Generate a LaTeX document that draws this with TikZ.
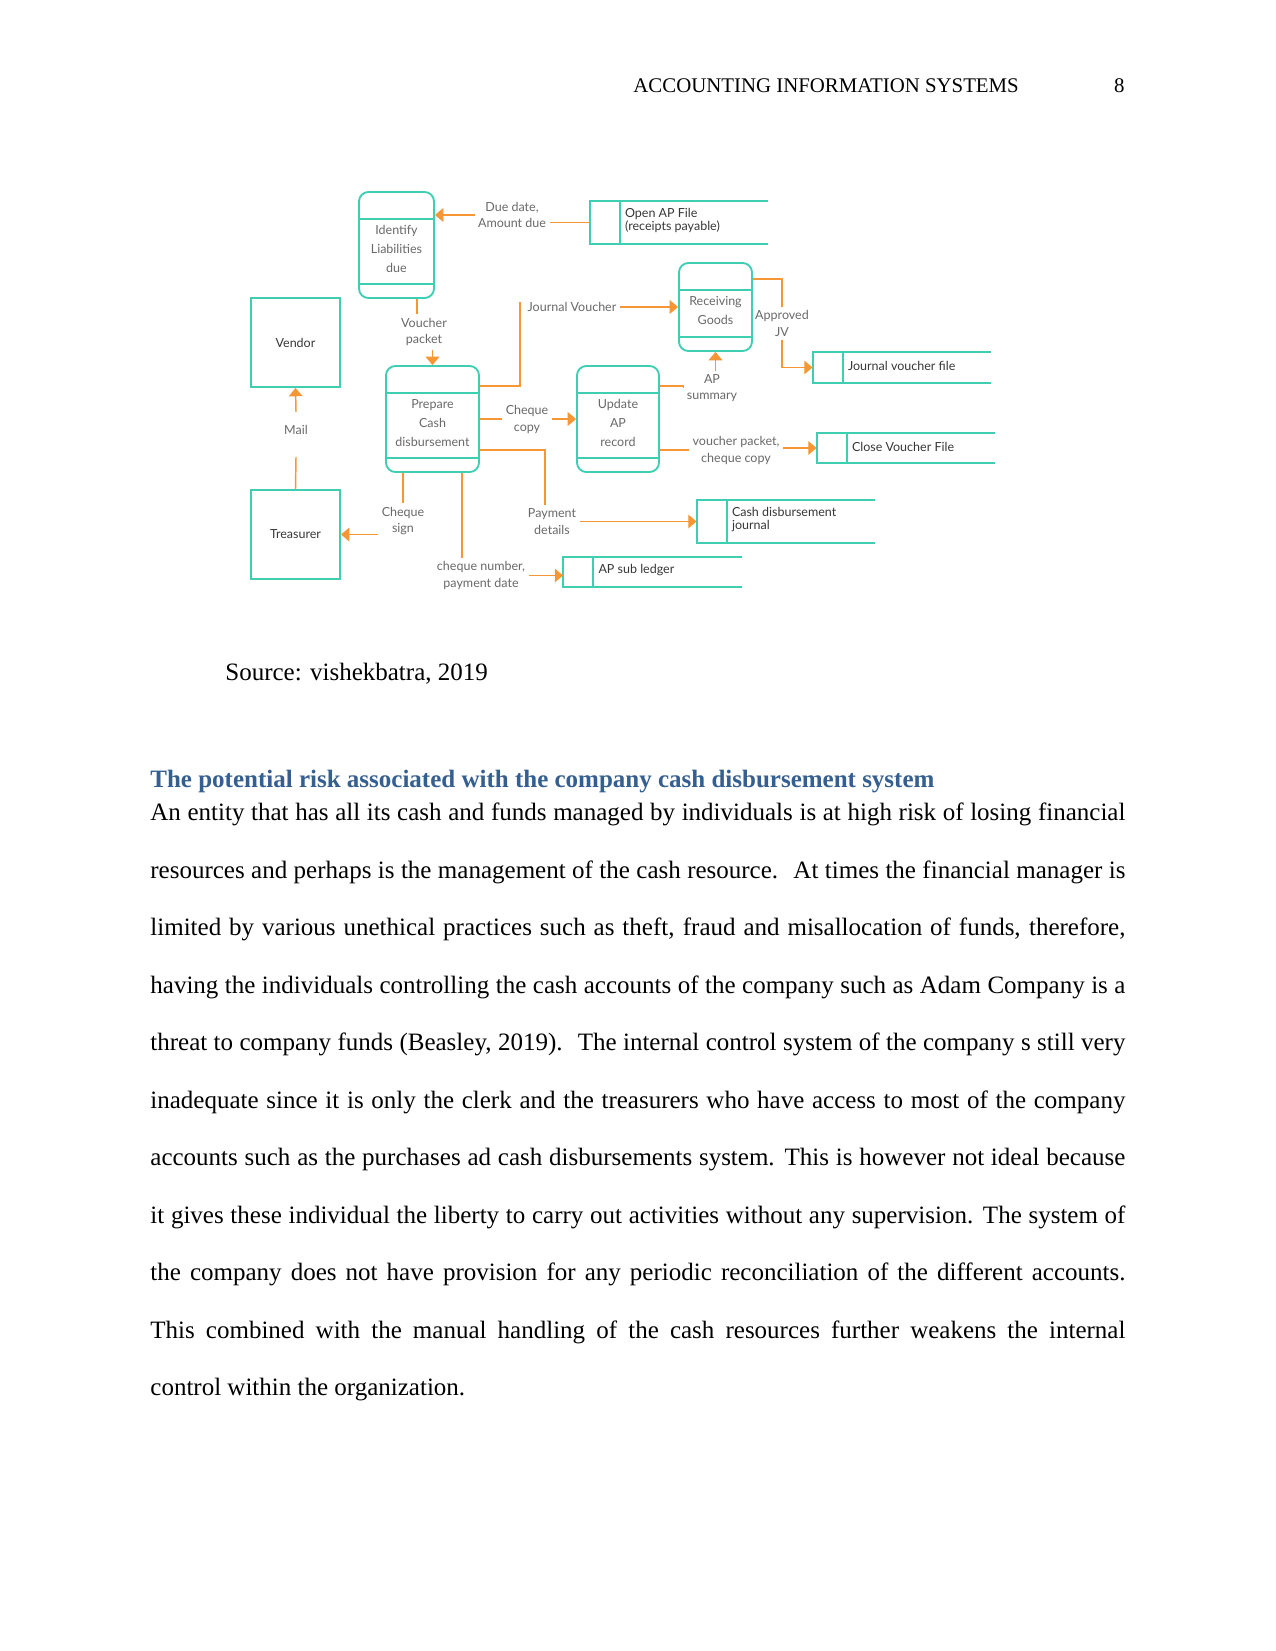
\documentclass[tikz,border=0pt]{standalone}
\usepackage{fontspec}
\setmainfont{Liberation Serif}
\newfontfamily\dfdfont{Lato}
\usetikzlibrary{arrows.meta,calc,positioning}

\definecolor{dfdteal}{RGB}{62,207,178}
\definecolor{dfdorange}{RGB}{246,150,52}
\definecolor{dfdgray}{RGB}{105,105,105}
\definecolor{dfddark}{RGB}{55,55,55}
\definecolor{headblue}{RGB}{54,95,145}

% one pixel of the page
\newdimen\pxu
\pxu=0.48pt

\begin{document}
\begin{tikzpicture}[
  x=0.48pt, y=-0.48pt,
  entity/.style={draw=dfdteal, line width=0.9pt, minimum width=89\pxu, minimum height=89\pxu,
    font=\dfdfont\fontsize{6}{8}\selectfont, text=dfddark},
  proc/.style={draw=dfdteal, line width=0.9pt, rounded corners=4.5pt, minimum height=106\pxu, inner sep=0pt,
    path picture={\draw[dfdteal, line width=0.9pt]
      ([yshift=-27\pxu]path picture bounding box.north west) -- ([yshift=-27\pxu]path picture bounding box.north east)
      ([yshift=14\pxu]path picture bounding box.south west) -- ([yshift=14\pxu]path picture bounding box.south east);}},
  ptext/.style={align=center, inner sep=0pt, font=\dfdfont\fontsize{6}{9}\selectfont, text=dfdgray},
  store/.style={minimum width=178\pxu, minimum height=30\pxu, inner sep=0pt},
  stext/.style={anchor=west, align=left, inner sep=0pt, font=\dfdfont\fontsize{6}{6.6}\selectfont, text=dfddark},
  lbl/.style={align=center, inner sep=1.5pt, font=\dfdfont\fontsize{6}{8}\selectfont, text=dfdgray},
  flow/.style={draw=dfdorange, line width=0.7pt},
  arr/.style={flow, -{Triangle[length=4pt, width=6.5pt]}},
  body/.style={anchor=base west, inner sep=0pt, font=\fontsize{12}{14}\selectfont}
]
\useasboundingbox (0,0) rectangle (1275,1651);
\fill[white] (0,0) rectangle (1275,1651);

% running head
\node[body, font=\fontsize{10}{12}\selectfont] (head) at (633,93) {ACCOUNTING INFORMATION SYSTEMS};
\node[body, font=\fontsize{10}{12}\selectfont, anchor=base east] (pageno) at (1125,93) {8};

% external entities
\node[entity] (vend) at (295.5,342.5) {Vendor};
\node[entity] (treas) at (295.5,534.5) {Treasurer};

% processes
\node[proc, minimum width=75\pxu] (ident) at (396.5,245) {};
\node[proc, minimum width=93\pxu] (prep) at (432.5,419) {};
\node[proc, minimum width=82\pxu] (upd) at (618,419) {};
\node[proc, minimum width=73\pxu, minimum height=88\pxu] (rcv) at (715.5,307) {};
\node[ptext] (ident-t) at ($(ident.center)+(0,4)$) {Identify\\Liabilities\\due};
\node[ptext] (prep-t) at ($(prep.center)+(0,4)$) {Prepare\\Cash\\disbursement};
\node[ptext] (upd-t) at ($(upd.center)+(0,4)$) {Update\\AP\\record};
\node[ptext] (rcv-t) at ($(rcv.center)+(0,3.5)$) {Receiving\\Goods};

% data stores
\node[store, minimum height=43\pxu] (apfile) at (679,222.5) {};
\node[store] (jvfile) at (902,367.5) {};
\node[store] (cvfile) at (906,448) {};
\node[store, minimum height=43\pxu] (cdj) at (786,521.5) {};
\node[store] (apsub) at (652.5,572) {};
\foreach \s in {apfile,jvfile,cvfile,cdj,apsub}
  \draw[dfdteal, line width=0.9pt] (\s.north east) -- (\s.north west) -- (\s.south west) -- (\s.south east)
    ($(\s.north west)+(30,0)$) -- ($(\s.south west)+(30,0)$);
\node[stext] (apfile-t) at ($(apfile.west)+(35,-2)$) {Open AP File\\(receipts payable)};
\node[stext] (jvfile-t) at ($(jvfile.west)+(35,-1.5)$) {Journal voucher file};
\node[stext] (cvfile-t) at ($(cvfile.west)+(35,-1.5)$) {Close Voucher File};
\node[stext] (cdj-t) at ($(cdj.west)+(35,-2)$) {Cash disbursement\\journal};
\node[stext] (apsub-t) at ($(apsub.west)+(35,-1.5)$) {AP sub ledger};

% labels on the flows
\node[lbl] (due) at (512,215) {Due date,\\Amount due};
\node[lbl] (vp) at (424,332) {Voucher\\packet};
\node[lbl] (jv) at (572,307) {Journal Voucher};
\node[lbl] (ccopy) at (527,419.5) {Cheque\\copy};
\node[lbl] (pay) at (552,521.5) {Payment\\details};
\node[lbl] (csign) at (403,521) {Cheque\\sign};
\node[lbl] (cnum) at (481,575.5) {cheque number,\\payment date};
\node[lbl] (mail) at (296,430) {Mail};
\node[lbl] (apsum) at (712,388) {AP\\summary};
\node[lbl] (ajv) at (782,323.5) {Approved\\JV};
\node[lbl] (vpcc) at (736,450.5) {voucher packet,\\cheque copy};

% data flows
\draw[flow] (apfile.west) -- (due.east |- apfile.west);
\draw[arr] (due.west) -- (ident.east |- due.west);

\coordinate (vp-a) at ($(ident.south)+(20.5,0)$);
\draw[flow] (vp-a) -- (vp-a |- vp.north);
\draw[arr] (vp.south -| prep.north) -- (prep.north);

\coordinate (jv-a) at ($(prep.north east)+(0,21)$);
\coordinate (jv-b) at ($(jv.west)+(-4,-5)$);
\draw[flow] (jv-a) -| (jv-b);
\draw[arr] (jv.east) -- (rcv.west);

\draw[flow] (prep.east) -- (ccopy.west |- prep.east);
\draw[arr] (ccopy.east |- upd.west) -- (upd.west);

\coordinate (pay-a) at ($(prep.south east)+(0,-23)$);
\coordinate (pay-b) at ($(pay.north)+(-7,0)$);
\draw[flow] (pay-a) -| (pay-b);
\draw[arr] (pay.east) -- (cdj.west |- pay.east);

\draw[flow] (csign.north |- prep.south) -- (csign.north);
\draw[arr] (csign.west |- treas.east) -- (treas.east);

\coordinate (cn-a) at ($(prep.south east)+(-18,0)$);
\draw[flow] (cn-a) -- (cn-a |- cnum.north);
\draw[arr] (cnum.east) -- (apsub.west |- cnum.east);

\coordinate (mail-a) at ($(mail.south)+(0,19)$);
\coordinate (mail-b) at ($(mail.north)+(0,-10)$);
\draw[flow] (treas.north) -- (mail-a);
\draw[arr] (mail-b) -- (vend.south);

\coordinate (ap-a) at ($(upd.north east)+(0,21)$);
\draw[flow] (ap-a) -| (apsum.west);
\draw[arr] (apsum.north -| rcv.south) -- (rcv.south);

\coordinate (ajv-a) at ($(rcv.north east)+(0,17)$);
\draw[flow] (ajv-a) -| (ajv.north);
\draw[arr] (ajv.south) |- (jvfile.west);

\coordinate (vc-a) at ($(upd.south east)+(0,-23)$);
\draw[flow] (vc-a) -- (vc-a -| vpcc.west);
\draw[arr] (vpcc.east |- cvfile.west) -- (cvfile.west);

% text below the figure
\node[body] (source) at (225,680) {Source: vishekbatra, 2019};
\node[body, font=\fontsize{12}{14}\selectfont\bfseries, text=headblue] (heading) at (150,787)
  {The potential risk associated with the company cash disbursement system};
\foreach \txt [count=\i from 0] in {
  {An entity that has all its cash and funds managed by individuals is at high risk of losing financial},
  {resources and perhaps is the management of the cash resource. \ At times the financial manager is},
  {limited by various unethical practices such as theft, fraud and misallocation of funds, therefore,},
  {having the individuals controlling the cash accounts of the company such as Adam Company is a},
  {threat to company funds (Beasley, 2019). \ The internal control system of the company s still very},
  {inadequate since it is only the clerk and the treasurers who have access to most of the company},
  {accounts such as the purchases ad cash disbursements system. This is however not ideal because},
  {it gives these individual the liberty to carry out activities without any supervision. The system of},
  {the company does not have provision for any periodic reconciliation of the different accounts.},
  {This combined with the manual handling of the cash resources further weakens the internal}}
  \node[body] (line\i) at (150,820.5+57.5*\i) {\makebox[468pt][s]{\txt}};
\node[body] (line10) at (150,1395.5) {control within the organization.};
\end{tikzpicture}
\end{document}
